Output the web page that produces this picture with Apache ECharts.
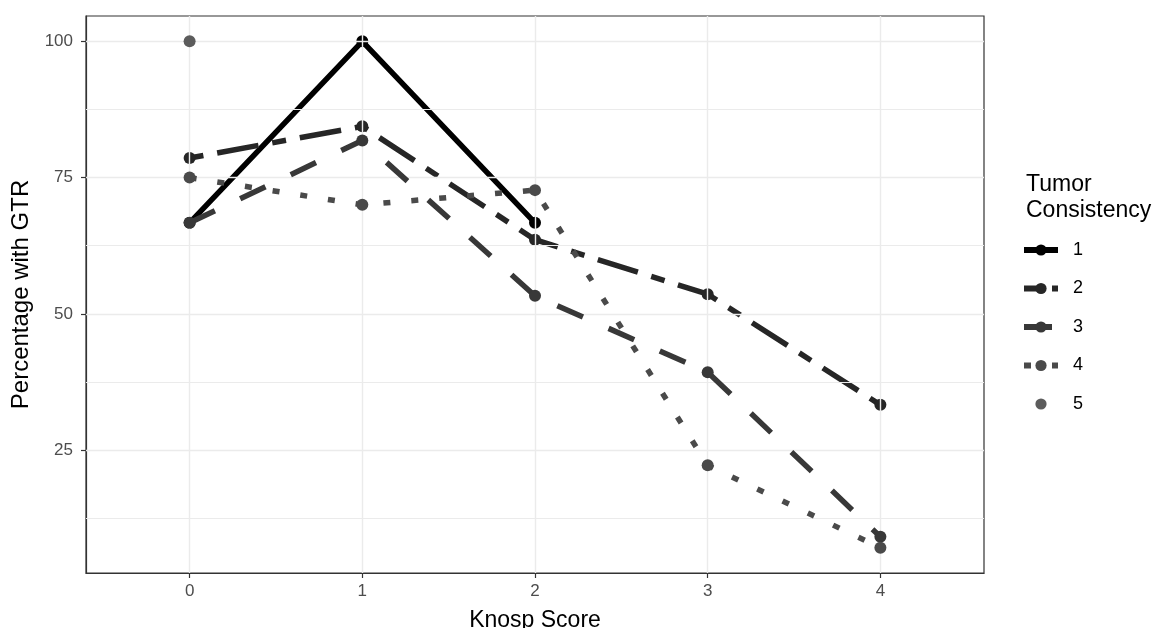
<!DOCTYPE html>
<html>
<head>
<meta charset="utf-8">
<script src="https://cdn.jsdelivr.net/npm/echarts@6/dist/echarts.min.js"></script>
<style>
html,body{margin:0;padding:0;background:#fff;}
#main{width:1155px;height:628px;}
</style>
</head>
<body>
<div id="main"></div>
<script>
// ---- data ----
const knospScores = [0, 1, 2, 3, 4];
const consistencyNames = ['1', '2', '3', '4', '5'];
const gtr1 = [66.7, 100, 66.7];
const gtr2 = [78.6, 84.4, 63.6, 53.6, 33.3];
const gtr3 = [66.7, 81.8, 53.3, 39.3, 9.1];
const gtr4 = [75, 70, 72.7, 22.2, 7.1];
const gtr5 = [100];
const yTickValues = [25, 50, 75, 100];
const yMinorValues = [12.5, 37.5, 62.5, 87.5];
const xTickValues = [0, 1, 2, 3, 4];

const seriesValues = [gtr1, gtr2, gtr3, gtr4, gtr5];
const colors = ['#000000', '#262626', '#383838', '#4a4a4a', '#5c5c5c'];
const dashes = ['solid', [14, 14, 42, 14], [28, 28], [7, 21], 'solid'];

const toPairs = vals => vals.map((v, i) => [knospScores[i], v]);

const gridLineStyle = {color: '#ebebeb', width: 1.4, type: 'solid'};
const minorLineStyle = {color: '#ebebeb', width: 1.0, type: 'solid'};

const gridMarks = [];
yTickValues.forEach(v => gridMarks.push({yAxis: v, lineStyle: gridLineStyle}));
yMinorValues.forEach(v => gridMarks.push({yAxis: v, lineStyle: minorLineStyle}));
xTickValues.forEach(v => gridMarks.push({xAxis: v, lineStyle: gridLineStyle}));

const series = [{
  name: 'grid',
  type: 'line',
  data: [],
  z: 1,
  silent: true,
  markLine: {
    silent: true,
    symbol: 'none',
    label: {show: false},
    animation: false,
    data: gridMarks
  }
}];

seriesValues.forEach((vals, i) => {
  series.push({
    name: consistencyNames[i],
    type: 'line',
    data: toPairs(vals),
    z: 3 + i,
    symbol: 'circle',
    symbolSize: 12,
    showSymbol: true,
    itemStyle: {color: colors[i]},
    lineStyle: {
      color: colors[i],
      width: i === 4 ? 0 : 5.5,
      type: dashes[i],
      cap: 'butt',
      opacity: i === 4 ? 0 : 1
    },
    animation: false
  });
});

const chart = echarts.init(document.getElementById('main'), null, {renderer: 'canvas'});
chart.setOption({
  backgroundColor: '#ffffff',
  textStyle: {fontFamily: 'Liberation Sans, Arial, sans-serif'},
  title: {
    text: 'Tumor\nConsistency',
    left: 1021,
    top: 167,
    textStyle: {fontSize: 23, fontWeight: 'normal', color: '#000', lineHeight: 26, fontFamily: 'Liberation Sans'}
  },
  legend: {
    data: consistencyNames,
    orient: 'vertical',
    left: 1016,
    top: 236,
    itemWidth: 34,
    itemHeight: 14,
    itemGap: 20.5,
    lineStyle: {width: 6},
    textStyle: {fontSize: 18, color: '#000', padding: [0, 0, 0, 10], fontFamily: 'Liberation Sans'},
    selectedMode: false
  },
  grid: {
    left: 86, top: 16, width: 898, height: 557,
    outerBoundsMode: 'none',
    containLabel: false,
    show: true, borderColor: '#333333', borderWidth: 1.2, backgroundColor: 'transparent'
  },
  xAxis: {
    type: 'value',
    min: -0.6,
    max: 4.6,
    name: 'Knosp Score',
    nameLocation: 'middle',
    nameGap: 36,
    nameTextStyle: {fontSize: 23, color: '#000', fontFamily: 'Liberation Sans'},
    axisLine: {show: true, onZero: false, lineStyle: {color: '#333', width: 1.2}},
    splitLine: {show: false},
    axisTick: {show: true, customValues: xTickValues, length: 5, lineStyle: {color: '#333', width: 1.2}},
    axisLabel: {customValues: xTickValues, fontSize: 17, color: '#4d4d4d', margin: 10, fontFamily: 'Liberation Sans'}
  },
  yAxis: {
    type: 'value',
    min: 2.45,
    max: 104.65,
    name: 'Percentage with GTR',
    nameLocation: 'middle',
    nameGap: 51,
    nameRotate: 90,
    nameTextStyle: {fontSize: 24, color: '#000', fontFamily: 'Liberation Sans'},
    axisLine: {show: true, onZero: false, lineStyle: {color: '#333', width: 1.2}},
    splitLine: {show: false},
    axisTick: {show: true, customValues: yTickValues, length: 5, lineStyle: {color: '#333', width: 1.2}},
    axisLabel: {customValues: yTickValues, fontSize: 17, color: '#4d4d4d', margin: 13, fontFamily: 'Liberation Sans'}
  },
  series: series
});
</script>
</body>
</html>
